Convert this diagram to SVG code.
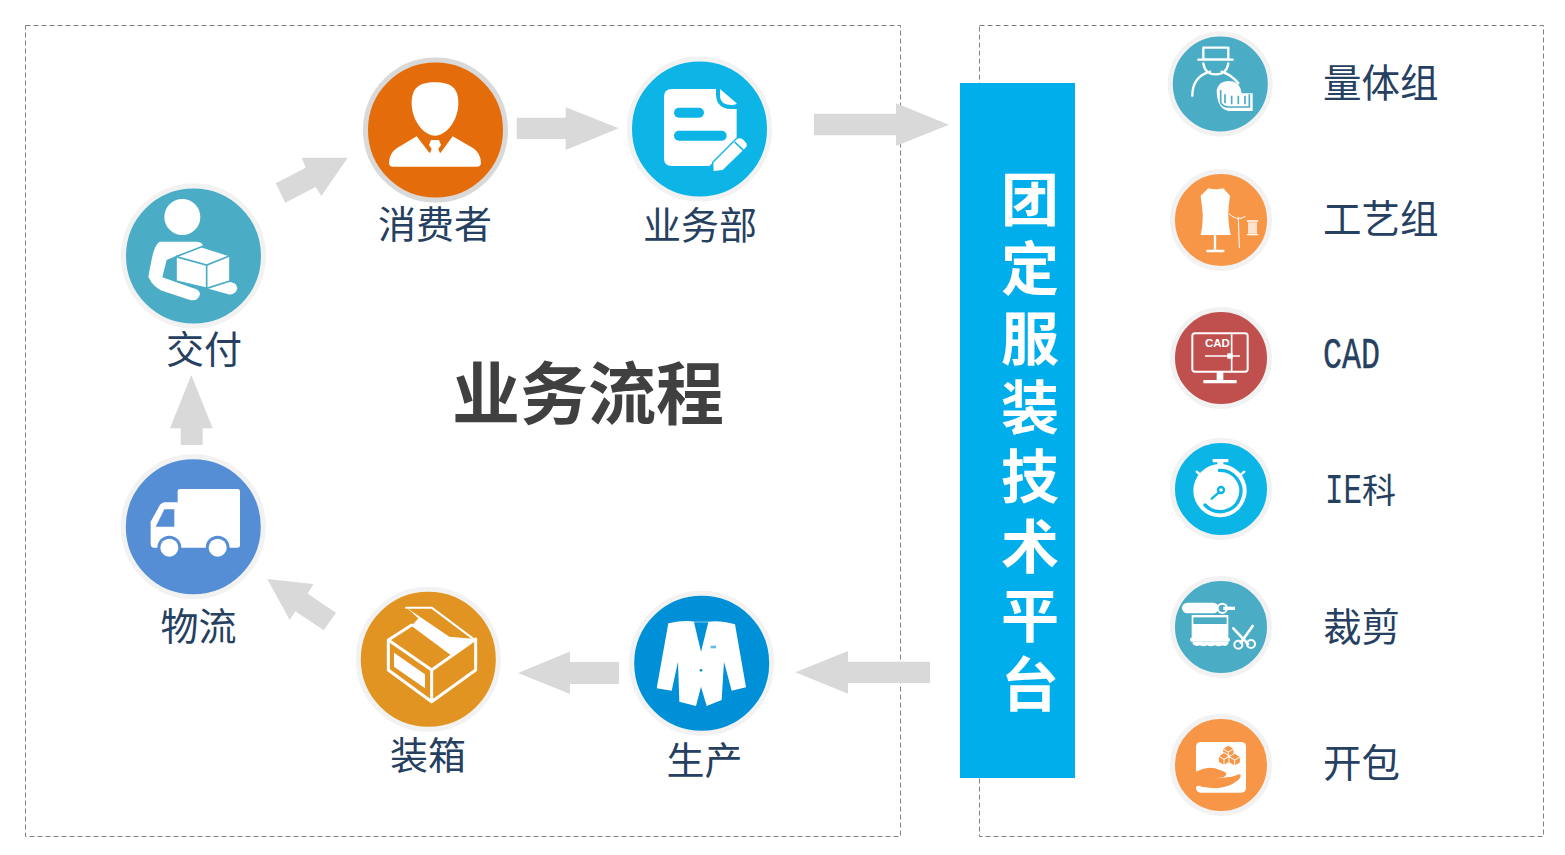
<svg xmlns="http://www.w3.org/2000/svg" width="1565" height="855" viewBox="0 0 1565 855">
<style>
.cjk{font-family:"Noto Sans CJK SC","Noto Sans",sans-serif}
.lb{font-size:38px;fill:#254061;text-anchor:middle}
.rl{font-size:38.5px;fill:#254061}
.ie{font-size:34px;fill:#254061}
.bar{font-size:58px;font-weight:700;fill:#fff}
.w{fill:#fff}
.ws{fill:none;stroke:#fff;stroke-linecap:round;stroke-linejoin:round}
.dash{fill:none;stroke:#7f7f7f;stroke-width:1;stroke-dasharray:5 3}
.arrow{fill:#d9d9d9}
</style>
<rect width="1565" height="855" fill="#fff"/>
<g id="frames">
<rect class="dash" x="25.5" y="25.5" width="875" height="811"/>
<rect class="dash" x="979.5" y="25.5" width="564" height="811"/>
</g>
<g id="connectors">
<polygon class="arrow" points="275.7,183.3 305.7,167.7 301.7,157.7 347.7,157.7 321.3,196 315.7,187 285.3,202.7"/>
<polygon class="arrow" points="516.7,117.7 565.7,117.7 565.7,107.3 618.7,128.3 565.7,150 565.7,139 516.7,139"/>
<polygon class="arrow" points="814,113.7 896,113.7 896,103.3 949,124.7 896,146 896,135.3 814,135.3"/>
<polygon class="arrow" points="930,661.7 848,661.7 848,651 795.3,672.3 848,693.7 848,683 930,683"/>
<polygon class="arrow" points="619,662 570,662 570,651.5 518,673 570,694 570,684 619,684"/>
<polygon class="arrow" points="267.3,579 313.3,584 307.7,593.7 336,612.7 323.7,630.3 295.3,611.3 289.7,620"/>
<polygon class="arrow" points="180.7,445 202.7,445 202.7,428.3 212.7,428.3 191.3,375 170,428.3 180.7,428.3"/>
</g>
<g id="title"><text class="cjk" x="588" y="419" font-size="68" font-weight="700" fill="#404040" text-anchor="middle">业务流程</text></g>
<g id="platform">
<rect x="960" y="83" width="115" height="695" fill="#00aeeb"/>
<text class="cjk bar" x="1030" y="170" writing-mode="vertical-rl" letter-spacing="11.3">团定服装技术平台</text>
</g>
<g id="node-consumer">
<circle cx="435.5" cy="130" r="70" fill="#e46c0a" stroke="#d9d9d9" stroke-width="5"/>
<g transform="translate(110 40) scale(.33333)">
<path class="w" d="M975 127C925 127 905 145 905 190C905 240 940 287 975 287C1010 287 1045 240 1045 190C1045 145 1025 127 975 127Z"/>
<path class="w" d="M920 289L958 338H992L1028 289L1090 325Q1112 340 1113 368Q1113 380 1100 380H850Q837 380 837 368Q838 340 860 325Z"/>
<path class="w" d="M963 300H987L993 315L985 327L990 340H960L965 327L957 315Z"/>
</g>
<text class="cjk lb" x="435" y="238">消费者</text>
</g>
<g id="node-sales">
<circle cx="699.5" cy="129" r="70" fill="#0cb5e6" stroke="#f2f2f2" stroke-width="5"/>
<g transform="translate(500 40) scale(.33333)">
<path class="w" d="M515 147H648V165Q650 205 692 207H710V300L628 378H515Q492 378 492 355V170Q492 147 515 147Z"/>
<path class="w" d="M660 147L710 190Q708 195 695 195Q662 195 660 170Z"/>
<rect x="522" y="203" width="90" height="30" rx="15" fill="#0cb5e6"/>
<rect x="522" y="272" width="158" height="30" rx="15" fill="#0cb5e6"/>
<path class="w" d="M640 368L710 298Q718 292 728 298L738 308Q744 316 736 324L668 390L641 393Z" stroke="#0cb5e6" stroke-width="8" paint-order="stroke"/>
<path d="M704 306L730 331" stroke="#0cb5e6" stroke-width="5" fill="none"/>
</g>
<text class="cjk lb" x="700" y="239">业务部</text>
</g>
<g id="node-delivery">
<circle cx="193.5" cy="256" r="70" fill="#4bacc6" stroke="#f2f2f2" stroke-width="5"/>
<g transform="translate(110 40) scale(.33333)">
<circle class="w" cx="217" cy="531" r="54"/>
<path class="w" d="M150 605H260Q280 607 278 620L205 645L170 660L157 712L250 745Q268 748 270 762Q265 785 240 780L165 755Q130 745 115 710C125 660 130 615 150 605Z"/>
<path class="w" d="M290 745L350 725Q382 725 382 745Q378 765 355 763Z"/>
<path d="M198 650L275 620L360 647V723L290 745L198 723Z" fill="#fff" stroke="#4bacc6" stroke-width="5" stroke-linejoin="round"/>
<path d="M198 650L290 675L360 647M290 675V745" fill="none" stroke="#4bacc6" stroke-width="5"/>
</g>
<text class="cjk lb" x="204" y="363">交付</text>
</g>
<g id="node-logistics">
<circle cx="193.3" cy="526.7" r="70" fill="#558ed5" stroke="#f2f2f2" stroke-width="5"/>
<g transform="translate(110 440) scale(.33333)">
<rect class="w" x="203" y="147" width="187" height="176" rx="7"/>
<path class="w" d="M205 187H165Q155 187 148 198L122 245V312Q122 323 132 323H205Z"/>
<path d="M193 208H163L137 260H193Z" fill="#558ed5"/>
<circle cx="178" cy="323" r="36" fill="#558ed5"/><circle class="w" cx="178" cy="323" r="27"/>
<circle cx="323" cy="323" r="36" fill="#558ed5"/><circle class="w" cx="323" cy="323" r="27"/>
</g>
<text class="cjk lb" x="198.5" y="640">物流</text>
</g>
<g id="node-packing">
<circle cx="428.3" cy="659.3" r="70" fill="#e29422" stroke="#f2f2f2" stroke-width="5"/>
<g transform="translate(110 440) scale(.33333)">
<path class="ws" stroke-width="9" d="M835 600L965 690L1097 597M835 600V690L965 785L1097 690V597M965 690V785M835 600L905 555"/>
<path class="w" d="M925 535L905 558L1022 645L1097 597L1018 590L890 503Z"/>
<path d="M915 508H960L1065 590H1022Z" fill="#e29422"/>
<path class="w" d="M852 638L945 703V745L852 680Z"/>
<path class="ws" stroke-width="6" d="M888 503H965L1088 595"/>
</g>
<text class="cjk lb" x="428" y="769">装箱</text>
</g>
<g id="node-production">
<circle cx="701.7" cy="663.3" r="70" fill="#0090d7" stroke="#f2f2f2" stroke-width="5"/>
<g transform="translate(620 580) scale(.33333)">
<path class="w" d="M145 130Q190 120 225 125H265Q300 120 345 133L378 322L335 332L312 245L305 360L260 378L243 320L228 378L178 365L174 245L155 332L110 325Z"/>
<path d="M222 127H265L243 215Z" fill="#0090d7"/>
<rect x="272" y="197" width="16" height="8" fill="#66bce7"/>
<circle cx="243" cy="271" r="4" fill="#0090d7"/>
</g>
<text class="cjk lb" x="704.5" y="774">生产</text>
</g>
<g id="node-measure">
<circle cx="1220.3" cy="84" r="50" fill="#4bacc6" stroke="#f2f2f2" stroke-width="5"/>
<g transform="translate(1160 25) scale(.33333)">
<path class="ws" stroke-width="7" d="M130 68H205V103H130ZM115 104H218M130 115Q135 148 167 148Q200 148 205 115M97 212Q97 155 150 140M185 140Q215 150 235 175"/>
<path class="w" d="M170 195Q175 170 205 168Q240 168 245 205H278V258H205Q170 250 170 195Z"/>
<path fill="none" stroke="#4bacc6" stroke-width="5" d="M182 195V232Q188 245 205 246H268V208M195 208V235M215 212V238M235 212V238M255 212V238"/>
</g>
<text class="cjk rl" x="1323" y="97">量体组</text>
</g>
<g id="node-craft">
<circle cx="1221" cy="220" r="48.5" fill="#f79646" stroke="#f2f2f2" stroke-width="5"/>
<g transform="translate(1160 25) scale(.33333)">
<path class="w" d="M145 490Q165 495 190 490L210 512L206 545Q202 585 212 630H122Q132 585 126 545L122 512Z"/>
<path class="ws" stroke-width="7" d="M165 630V678M142 678H190"/>
<path class="ws" stroke-width="3" d="M235 577L238 668M208 567Q230 590 255 575"/>
<rect x="264" y="592" width="27" height="34" fill="#fde3cf"/>
<path class="ws" stroke-width="4" d="M262 588H293M262 629H293"/>
</g>
<text class="cjk rl" x="1323" y="233">工艺组</text>
</g>
<g id="node-cad">
<circle cx="1221" cy="358" r="48.5" fill="#c0504d" stroke="#f2f2f2" stroke-width="5"/>
<g transform="translate(1160 300) scale(.33333)">
<rect x="97" y="100" width="166" height="115" rx="8" fill="none" stroke="#fff" stroke-width="6"/>
<path class="ws" stroke-width="5" d="M215 100V215M137 168H238"/>
<rect class="w" x="202" y="160" width="16" height="16"/>
<path class="w" d="M170 215H190V240H230V250H130V240H170Z"/>
</g>
<text x="1205" y="347" font-family="'Liberation Sans',sans-serif" font-size="11.5" font-weight="700" fill="#fff">CAD</text>
<text x="1323" y="368" font-family="'Liberation Mono',monospace" font-size="45" fill="#254061" stroke="#254061" stroke-width=".4" textLength="57" lengthAdjust="spacingAndGlyphs">CAD</text>
</g>
<g id="node-ie">
<circle cx="1221" cy="489" r="48.5" fill="#0bb5e5" stroke="#f2f2f2" stroke-width="5"/>
<g transform="translate(1160 300) scale(.33333)">
<circle class="w" cx="180" cy="572" r="80"/>
<path fill="none" stroke="#0bb5e5" stroke-width="10" stroke-linecap="round" d="M178 511A62 62 0 1 1 135 615"/>
<circle cx="183" cy="570" r="9" fill="none" stroke="#0bb5e5" stroke-width="7"/>
<path fill="none" stroke="#0bb5e5" stroke-width="7" stroke-linecap="round" d="M177 577L155 596"/>
<path class="w" d="M158 477H205V487H190V500H172V487H158Z"/>
<path class="ws" stroke-width="7" d="M110 515L122 525M253 515L241 525"/>
</g>
<text class="cjk ie" x="1325" y="503"><tspan font-family="'Liberation Mono',monospace" font-size="43" textLength="37" lengthAdjust="spacingAndGlyphs">IE</tspan>科</text>
</g>
<g id="node-cutting">
<circle cx="1221" cy="627" r="48.5" fill="#4bacc6" stroke="#f2f2f2" stroke-width="5"/>
<g transform="translate(1160 570) scale(.33333)">
<rect class="w" x="66" y="98" width="110" height="32" rx="16"/>
<circle cx="187" cy="115" r="14" fill="#4bacc6" stroke="#fff" stroke-width="6"/>
<rect class="w" x="190" y="110" width="35" height="10"/>
<rect class="w" x="95" y="135" width="110" height="70"/>
<rect x="100" y="142" width="100" height="20" fill="#4bacc6"/>
<rect class="w" x="90" y="203" width="120" height="12" rx="5"/>
<path class="w" d="M98 215H205V222Q196 232 187 226Q176 232 165 226Q152 232 142 226Q130 232 120 226Q108 232 98 222Z"/>
<path class="ws" stroke-width="8" d="M220 175L264 222M278 168L242 218"/>
<circle cx="235" cy="224" r="12" fill="none" stroke="#fff" stroke-width="6"/>
<circle cx="273" cy="222" r="12" fill="none" stroke="#fff" stroke-width="6"/>
</g>
<text class="cjk rl" x="1323" y="641">裁剪</text>
</g>
<g id="node-issue">
<circle cx="1221" cy="765" r="48.5" fill="#f79646" stroke="#f2f2f2" stroke-width="5"/>
<g transform="translate(1160 570) scale(.33333)">
<rect class="w" x="108" y="516" width="150" height="152" rx="14"/>
<g fill="#f79646" stroke="#fff" stroke-width="3" stroke-linejoin="round">
<path d="M205 526L222 536V554L205 564L188 554V536Z"/>
<path d="M192 548L209 558V576L192 586L175 576V558Z"/>
<path d="M224 550L241 560V578L224 588L207 578V560Z"/>
<path fill="none" d="M188 536L205 546L222 536M205 546V564M175 558L192 568L209 558M192 568V586M207 560L224 570L241 560M224 570V588"/>
</g>
<path fill="#f79646" d="M108 605C130 595 150 590 165 595L195 606Q205 615 190 622L160 626L215 620L240 612Q246 618 235 630Q205 655 160 655L125 650Q115 645 108 650Z"/>
</g>
<text class="cjk rl" x="1323" y="777">开包</text>
</g>
</svg>
